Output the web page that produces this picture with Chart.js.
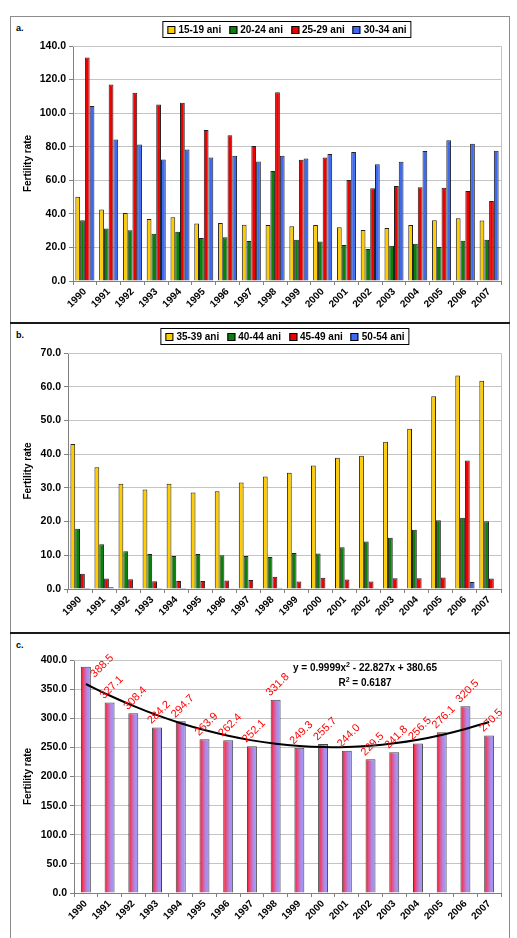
<!DOCTYPE html>
<html>
<head>
<meta charset="utf-8">
<script src="https://cdn.jsdelivr.net/npm/chart.js@4/dist/chart.umd.min.js"></script>
<style>
  body { margin: 0; background: #fff; font-family: "Liberation Sans", Arial, sans-serif; }
  #frame { position: absolute; left: 10px; top: 16px; width: 498px; height: 930px; border: 1px solid #8c8c8c; border-bottom: none; }
  .panel { position: absolute; left: 11px; }
  .divider { position: absolute; left: 10px; width: 500px; height: 2px; background: #1a1a1a; }
  .tag { position: absolute; left: 16px; font: bold 9px "Liberation Sans", Arial, sans-serif; }
  .legend { position: absolute; transform: translateX(-50%); border: 1px solid #000; padding: 2px 4px 1px;
            display: flex; gap: 8px; font: bold 10px "Liberation Sans", Arial, sans-serif; white-space: nowrap; line-height: 12px; }
  .legend span.item { display: flex; align-items: center; gap: 3px; }
  .legend i { display: inline-block; width: 6px; height: 6px; border: 1px solid #000; }
</style>
</head>
<body>
<div id="frame"></div>
<div class="divider" style="top:322px"></div>
<div class="divider" style="top:632px"></div>

<div class="tag" style="top:23px">a.</div>
<div class="tag" style="top:330px">b.</div>
<div class="tag" style="top:640px">c.</div>

<canvas id="chart-a" class="panel" style="top:17px" width="497" height="305"></canvas>
<canvas id="chart-b" class="panel" style="top:324px" width="497" height="308"></canvas>
<canvas id="chart-c" class="panel" style="top:634px" width="497" height="304"></canvas>

<div id="legend-a" class="legend" style="left:287px;top:21px"></div>
<div id="legend-b" class="legend" style="left:285px;top:328px"></div>

<script>
const years = ['1990','1991','1992','1993','1994','1995','1996','1997','1998','1999',
               '2000','2001','2002','2003','2004','2005','2006','2007'];

// panel a
const age15_19 = [50.2, 42.6, 40.5, 36.9, 38.0, 34.3, 34.5, 33.5, 33.4, 32.6, 33.4, 32.0, 30.4, 31.6, 33.4, 36.2, 37.4, 36.0];
const age20_24 = [36.2, 31.3, 30.3, 28.2, 29.4, 25.6, 26.0, 23.8, 65.6, 24.6, 23.6, 21.4, 19.0, 21.0, 22.2, 20.2, 24.0, 24.6];
const age25_29 = [133.1, 117.1, 112.1, 105.2, 106.2, 89.9, 86.9, 80.4, 112.4, 72.2, 73.6, 60.2, 55.2, 56.6, 55.8, 55.6, 53.6, 47.6];
const age30_34 = [104.2, 84.3, 81.3, 72.4, 78.4, 73.6, 74.6, 71.2, 74.6, 73.0, 75.6, 76.8, 69.6, 71.0, 77.4, 83.8, 81.8, 77.6];

// panel b
const age35_39 = [43.0, 36.1, 31.2, 29.5, 31.2, 28.6, 29.0, 31.6, 33.4, 34.5, 36.6, 38.9, 39.5, 43.7, 47.5, 57.2, 63.3, 61.8];
const age40_44 = [17.9, 13.3, 11.2, 10.4, 9.8, 10.4, 10.0, 9.8, 9.5, 10.7, 10.5, 12.4, 14.1, 15.2, 17.6, 20.4, 21.1, 20.1];
const age45_49 = [4.5, 3.1, 2.9, 2.3, 2.4, 2.4, 2.5, 2.7, 3.6, 2.2, 3.3, 2.8, 2.2, 3.2, 3.2, 3.4, 38.1, 3.1];
const age50_54 = [0.3, 0.5, 0.2, 0.3, 0.3, 0.1, 0.2, 0.1, 0.4, 0.1, 0.1, 0.1, 0.1, 0.1, 0.1, 0.1, 2.1, 0.2];

// panel c
const totalRate = [388.5, 327.1, 308.4, 284.2, 294.7, 263.9, 262.4, 252.1, 331.8, 249.3, 255.7, 244.0, 229.5, 241.8, 256.5, 276.1, 320.5, 270.5];
const trendValues = [358.8, 339.0, 321.2, 305.3, 291.5, 279.7, 269.9, 262.0, 256.2, 252.4, 250.5, 250.7, 252.9, 257.1, 263.2, 271.4, 281.6, 293.7];
const trendEq = ['y = 0.9999x', ' - 22.827x + 380.65'];
const trendR2 = ' = 0.6187';

const FONT = '"Liberation Sans", Arial, sans-serif';
const GRID = '#c4c4c4', AXIS = '#808080';

const plotFrame = {
  id: 'plotFrame',
  beforeDatasetsDraw(chart) {
    const a = chart.chartArea, ctx = chart.ctx;
    ctx.save();
    ctx.strokeStyle = GRID; ctx.lineWidth = 1;
    ctx.beginPath();
    ctx.moveTo(a.left, a.top + 0.5); ctx.lineTo(a.right + 0.5, a.top + 0.5);
    ctx.lineTo(a.right + 0.5, a.bottom);
    ctx.stroke();
    ctx.restore();
  }
};

function baseOptions(yMax, step, yWidth, top, xHeight) {
  return {
    responsive: false,
    animation: false,
    devicePixelRatio: 1,
    layout: { padding: { top, right: 7, left: 0, bottom: 0 } },
    plugins: { legend: { display: false }, tooltip: { enabled: false } },
    scales: {
      x: {
        grid: { offset: true, drawOnChartArea: false, drawTicks: true, tickLength: 4, tickColor: AXIS },
        border: { color: AXIS, width: 1 },
        ticks: { color: '#000', font: { family: FONT, size: 10, weight: 'bold' }, minRotation: 45, maxRotation: 45, autoSkip: false, padding: 1 },
        afterFit: s => { s.height = xHeight; },
      },
      y: {
        min: 0, max: yMax,
        grid: { color: GRID, tickColor: AXIS, tickLength: 4 },
        border: { color: AXIS, width: 1 },
        ticks: { stepSize: step, color: '#000', font: { family: FONT, size: 10.5, weight: 'bold' }, padding: 3,
                 callback: v => v.toFixed(1) },
        title: { display: true, text: 'Fertility rate', color: '#000', font: { family: FONT, size: 10, weight: 'bold' }, padding: { top: 11, bottom: 0 } },
        afterFit: s => { s.width = yWidth; },
      },
    },
  };
}

function bars(label, data, color) {
  return { label, data, backgroundColor: color, borderColor: '#222', borderWidth: 1,
           barPercentage: 1, categoryPercentage: 0.8 };
}

function htmlLegend(id, chart) {
  const el = document.getElementById(id);
  el.innerHTML = chart.data.datasets.map(d =>
    `<span class="item"><i style="background:${d.backgroundColor}"></i>${d.label}</span>`).join('');
}

const YELLOW = '#ffcc00', GREEN = '#0a800a', RED = '#ee0000', BLUE = '#3d6af0';

// ── Panel a ──
const chartA = new Chart(document.getElementById('chart-a'), {
  type: 'bar',
  data: {
    labels: years,
    datasets: [
      bars('15-19 ani', age15_19, YELLOW),
      bars('20-24 ani', age20_24, GREEN),
      bars('25-29 ani', age25_29, RED),
      bars('30-34 ani', age30_34, BLUE),
    ],
  },
  options: baseOptions(140, 20, 62, 29, 41),
  plugins: [plotFrame],
});
htmlLegend('legend-a', chartA);

// ── Panel b ──
const chartB = new Chart(document.getElementById('chart-b'), {
  type: 'bar',
  data: {
    labels: years,
    datasets: [
      bars('35-39 ani', age35_39, YELLOW),
      bars('40-44 ani', age40_44, GREEN),
      bars('45-49 ani', age45_49, RED),
      bars('50-54 ani', age50_54, BLUE),
    ],
  },
  options: baseOptions(70, 10, 57, 29, 43),
  plugins: [plotFrame],
});
htmlLegend('legend-b', chartB);

// ── Panel c ── total with trend line
const BAR_PCT_C = 0.42;
const barGradient = (c) => {
  const ch = c.chart, xs = ch.scales.x;
  if (!xs || !ch.chartArea || xs.width === undefined) return '#9999ff';
  const cx = xs.getPixelForValue(c.dataIndex);
  const w = xs.width / years.length * BAR_PCT_C;
  const g = ch.ctx.createLinearGradient(cx - w / 2, 0, cx + w / 2, 0);
  g.addColorStop(0, '#ff1010');
  g.addColorStop(0.3, '#e0508a');
  g.addColorStop(0.65, '#ac8ee8');
  g.addColorStop(1, '#9999ff');
  return g;
};

const valueLabels = {
  id: 'valueLabels',
  afterDatasetsDraw(chart) {
    const meta = chart.getDatasetMeta(1), top = chart.chartArea.top, ctx = chart.ctx;
    ctx.save();
    ctx.fillStyle = '#ff0000';
    ctx.font = `11px ${FONT}`;
    ctx.textAlign = 'center';
    ctx.textBaseline = 'middle';
    meta.data.forEach((el, i) => {
      let x = el.x + 2, y = el.y - 15;
      if (y < top + 6) { const d = top + 6 - y; x += d; y += d; }
      ctx.save();
      ctx.translate(x, y);
      ctx.rotate(-Math.PI / 4);
      ctx.fillText(totalRate[i].toFixed(1), 0, 0);
      ctx.restore();
    });
    ctx.restore();
  },
  afterDraw(chart) {
    const ctx = chart.ctx, cx = 354;
    ctx.save();
    ctx.fillStyle = '#000';
    ctx.textBaseline = 'alphabetic';
    ctx.textAlign = 'left';
    const big = `bold 10px ${FONT}`, small = `bold 7px ${FONT}`;
    const line = (parts, y) => {
      ctx.font = big; const w0 = ctx.measureText(parts[0]).width, w2 = ctx.measureText(parts[1]).width;
      ctx.font = small; const w1 = ctx.measureText('2').width;
      let x = cx - (w0 + w1 + w2) / 2;
      ctx.font = big; ctx.fillText(parts[0], x, y); x += w0;
      ctx.font = small; ctx.fillText('2', x, y - 4); x += w1;
      ctx.font = big; ctx.fillText(parts[1], x, y);
    };
    line(trendEq, 37);
    line(['R', trendR2], 52);
    ctx.restore();
  }
};

const optsC = baseOptions(400, 50, 63, 26, 45);
new Chart(document.getElementById('chart-c'), {
  type: 'bar',
  data: {
    labels: years,
    datasets: [
      { type: 'line', label: 'Trend', data: trendValues, borderColor: '#000', borderWidth: 2,
        pointRadius: 0, tension: 0.4, fill: false, order: 0 },
      { label: 'Total', data: totalRate, backgroundColor: barGradient, borderColor: '#444', borderWidth: 1,
        barPercentage: 1, categoryPercentage: BAR_PCT_C, order: 1 },
    ],
  },
  options: optsC,
  plugins: [plotFrame, valueLabels],
});
</script>
</body>
</html>
